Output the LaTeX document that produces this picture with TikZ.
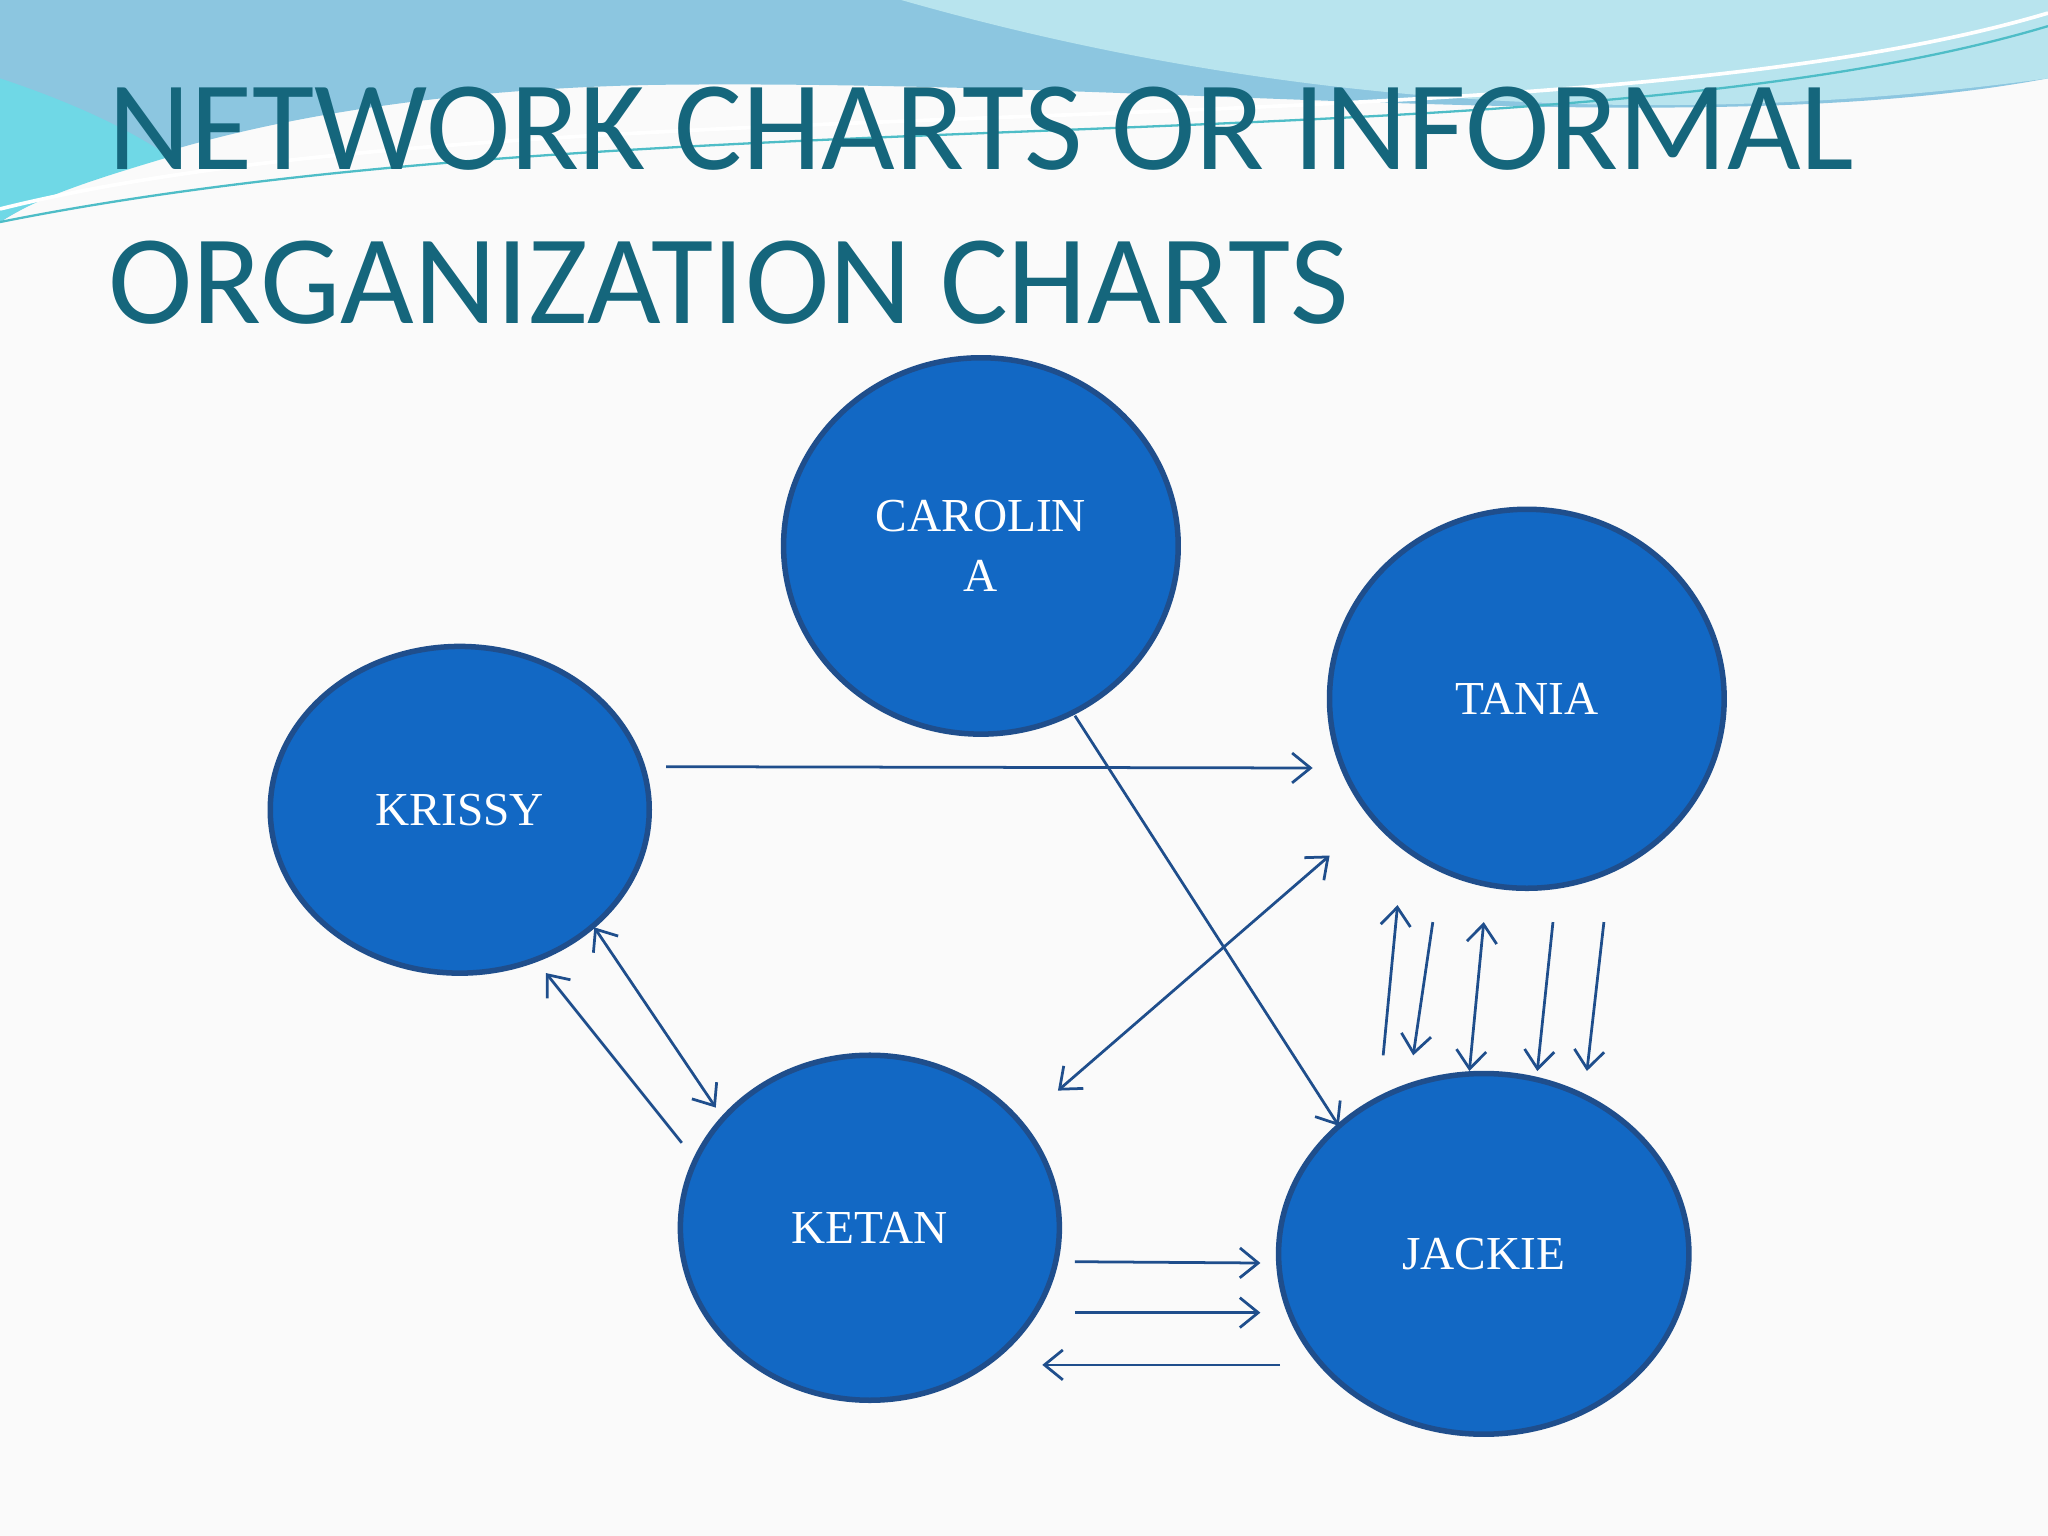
\documentclass[tikz,border=0pt]{standalone}
\usepackage{fontspec}
\setmainfont{Liberation Serif}
\newfontfamily\titlefont{Carlito}
\usetikzlibrary{arrows.meta,shapes.geometric}
\definecolor{nodefill}{HTML}{1268C4}
\definecolor{nodeline}{HTML}{1F4E8C}
\definecolor{arrowc}{HTML}{1F4E8C}
\definecolor{titlec}{HTML}{15667C}
\definecolor{wave1}{HTML}{8CC6E0}
\definecolor{wave2}{HTML}{B8E4EE}
\definecolor{wave3}{HTML}{6FD8E6}
\tikzset{
  person/.style={ellipse,draw=nodeline,line width=1.2pt,fill=nodefill,text=white,
    font=\fontsize{10.3}{13}\selectfont,align=center,inner sep=0pt},
  link/.style={draw=arrowc,line width=0.6pt,-{Straight Barb[length=4pt,width=6.5pt]}},
  link2/.style={draw=arrowc,line width=0.6pt,{Straight Barb[length=4pt,width=6.5pt]}-{Straight Barb[length=4pt,width=6.5pt]}}
}
\begin{document}
\begin{tikzpicture}[x=0.01cm,y=-0.01cm]
\fill[white!96!gray] (0,0) rectangle (1568,1176);
\useasboundingbox (0,0) rectangle (1568,1176);
% waves
\fill[wave1] (0,0) -- (1568,0) -- (1568,60) .. controls (1300,110) and (900,60) .. (500,65) .. controls (250,70) and (80,120) .. (0,170) -- cycle;
\fill[wave2] (690,0) .. controls (900,60) and (1200,110) .. (1568,60) -- (1568,0) -- cycle;
\fill[wave3] (0,60) .. controls (60,80) and (100,100) .. (130,120) .. controls (80,135) and (30,150) .. (0,170) -- cycle;
\draw[white,line width=0.8pt] (0,160) .. controls (400,60) and (1200,120) .. (1568,10);
\draw[wave3!70!teal,line width=0.5pt] (0,170) .. controls (500,70) and (1200,130) .. (1568,20);
% title
\node[anchor=base west,text=titlec,font=\titlefont\fontsize{27.7}{33.5}\selectfont,inner sep=0pt] (t1) at (82,130) {NETWORK CHARTS OR INFORMAL};
\node[anchor=base west,text=titlec,font=\titlefont\fontsize{27.7}{33.5}\selectfont,inner sep=0pt] (t2) at (82,248) {ORGANIZATION CHARTS};
% nodes
\node[person,minimum width=3.02cm,minimum height=2.88cm] (car) at (751,418) {CAROLIN\\A};
\node[person,minimum width=3.02cm,minimum height=2.9cm] (tan) at (1169,535) {TANIA};
\node[person,minimum width=2.9cm,minimum height=2.5cm] (kri) at (352,620) {KRISSY};
\node[person,minimum width=2.9cm,minimum height=2.64cm] (ket) at (666,940) {KETAN};
\node[person,minimum width=3.14cm,minimum height=2.76cm] (jac) at (1136,960) {JACKIE};
% arrow endpoints
\coordinate (a1) at (510,587); \coordinate (b1) at (1005,588);
\coordinate (a2) at (823,548); \coordinate (b2) at (1025,862);
\coordinate (a3) at (810,835); \coordinate (b3) at (1018,655);
\coordinate (a4) at (455,710); \coordinate (b4) at (548,848);
\coordinate (a5) at (522,875); \coordinate (b5) at (418,745);
\coordinate (a6) at (1059,808); \coordinate (b6) at (1070,693);
\coordinate (a7) at (1097,706); \coordinate (b7) at (1082,808);
\coordinate (a8) at (1125,820); \coordinate (b8) at (1136,706);
\coordinate (a9) at (1189,706); \coordinate (b9) at (1177,820);
\coordinate (a10) at (1228,706); \coordinate (b10) at (1215,820);
\coordinate (a11) at (823,966); \coordinate (b11) at (965,967);
\coordinate (a12) at (823,1005); \coordinate (b12) at (965,1005);
\coordinate (a13) at (980,1045); \coordinate (b13) at (798,1045);
\draw[link] (a1) -- (b1);
\draw[link] (a2) -- (b2);
\draw[link2] (a3) -- (b3);
\draw[link2] (a4) -- (b4);
\draw[link] (a5) -- (b5);
\draw[link] (a6) -- (b6);
\draw[link] (a7) -- (b7);
\draw[link2] (a8) -- (b8);
\draw[link] (a9) -- (b9);
\draw[link] (a10) -- (b10);
\draw[link] (a11) -- (b11);
\draw[link] (a12) -- (b12);
\draw[link] (a13) -- (b13);
\end{tikzpicture}
\end{document}
